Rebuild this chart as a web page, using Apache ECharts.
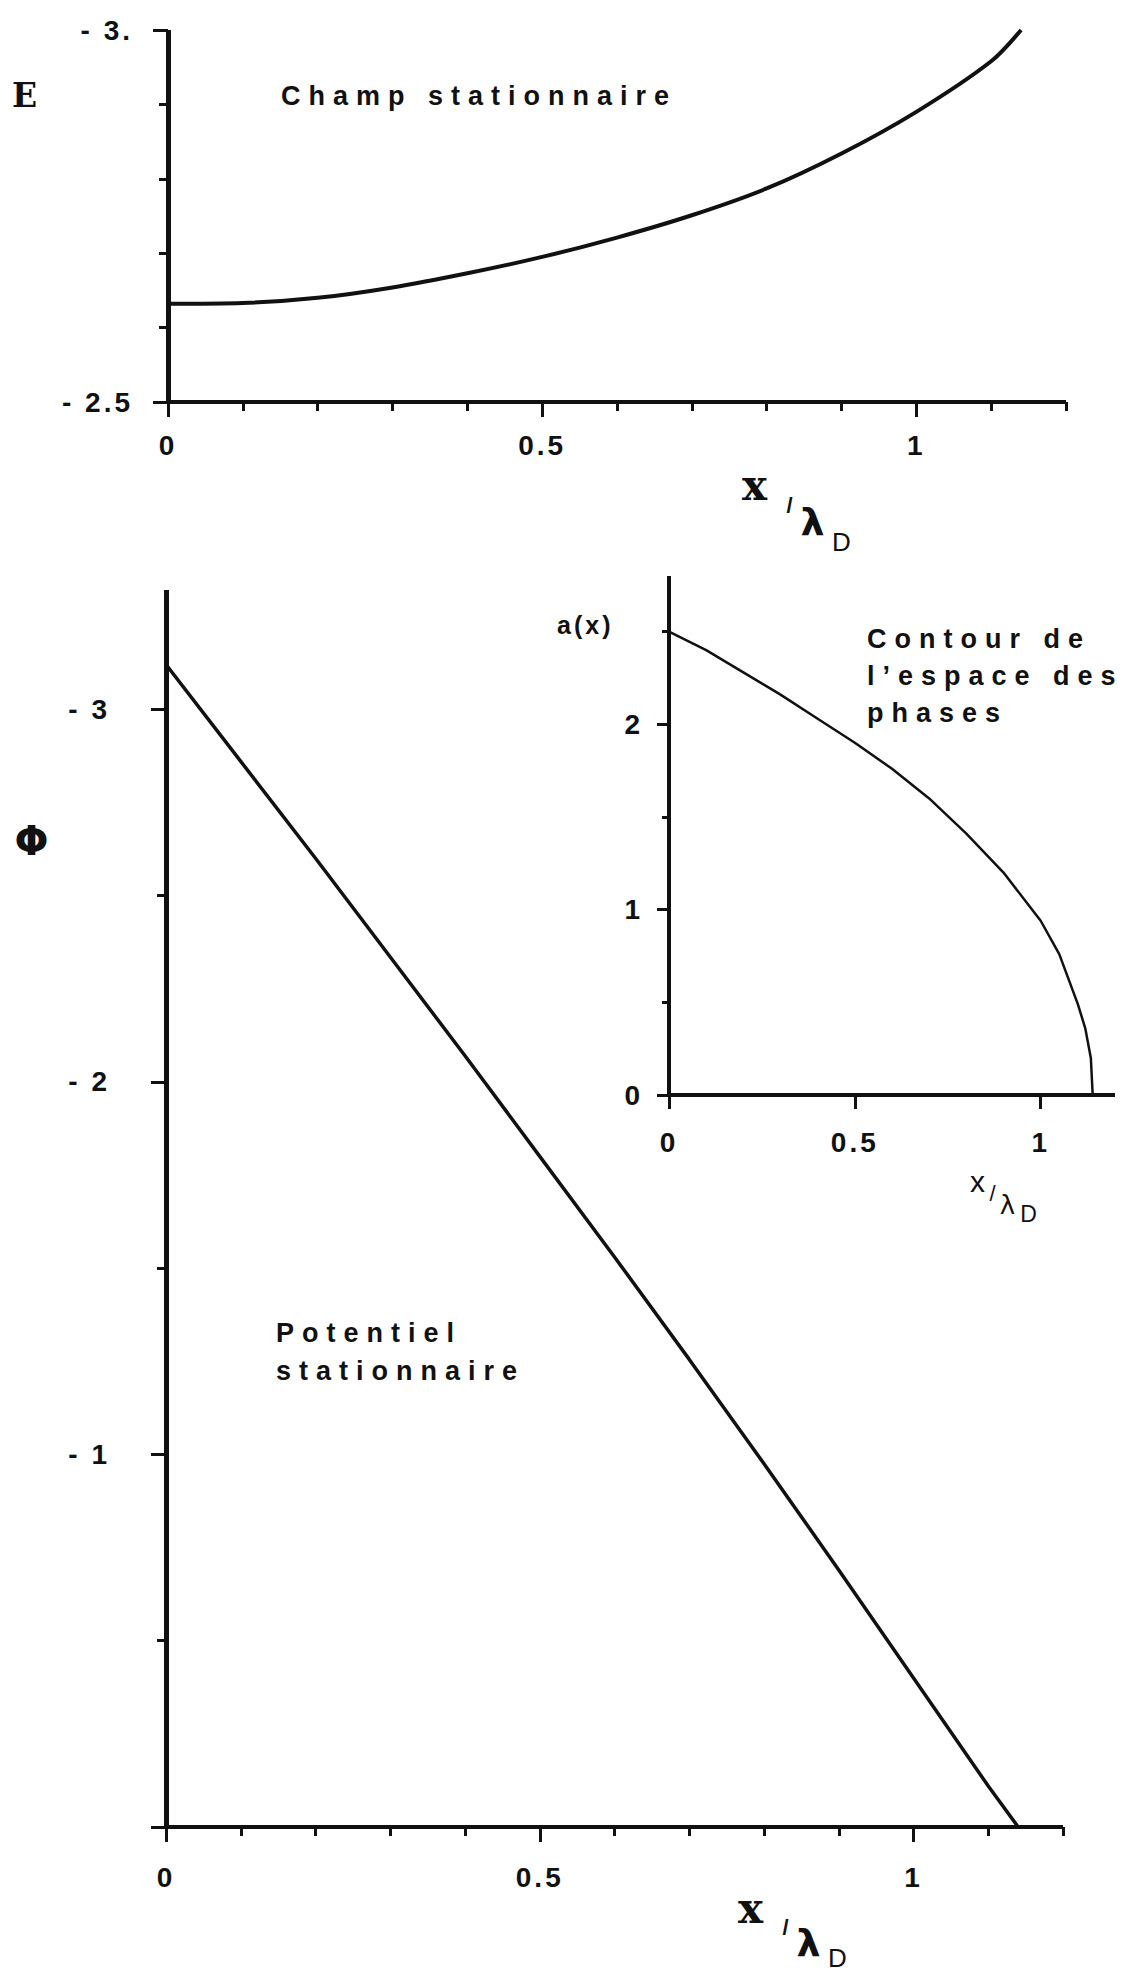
<!DOCTYPE html>
<html>
<head>
<meta charset="utf-8">
<title>Champ, potentiel et contour de l'espace des phases</title>
<script src="https://cdn.jsdelivr.net/npm/echarts@6/dist/echarts.min.js"></script>
<style>
  html, body { margin: 0; padding: 0; background: #ffffff; }
  #chart { width: 1127px; height: 1979px; }
  /* typewriter-like tracking of the plot lettering */
  #chart text { letter-spacing: 3px; }
  #chart text[style*="27px"] { letter-spacing: 8px; }
</style>
</head>
<body>
<div id="chart"></div>
<script>
// ---- stationary electric field E(x) ----
const eX = [0, 0.1, 0.2, 0.3, 0.4, 0.5, 0.6, 0.7, 0.8, 0.9, 1.0, 1.1, 1.14];
const eY = [-2.632, -2.633, -2.640, -2.654, -2.673, -2.695, -2.721, -2.751, -2.787, -2.834, -2.890, -2.958, -3.0];

// ---- stationary potential Phi(x) ----
const phiX = [0, 0.1, 0.2, 0.3, 0.4, 0.5, 0.6, 0.7, 0.8, 0.9, 1.0, 1.1, 1.14];
const phiY = [-3.12, -2.86, -2.60, -2.335, -2.07, -1.80, -1.53, -1.255, -0.975, -0.69, -0.40, -0.11, 0];

// ---- phase-space contour a(x) ----
const aX = [0, 0.1, 0.2, 0.3, 0.4, 0.5, 0.6, 0.7, 0.8, 0.9, 1.0, 1.05, 1.1, 1.12, 1.135, 1.14];
const aY = [2.50, 2.40, 2.28, 2.16, 2.03, 1.90, 1.76, 1.60, 1.41, 1.20, 0.94, 0.76, 0.49, 0.36, 0.20, 0];

// ---- tick positions and tick labels ----
const xMinorTicks = [0.1, 0.2, 0.3, 0.4, 0.6, 0.7, 0.8, 0.9, 1.1, 1.2];
const xMajorTicks = [0, 0.5, 1];
const xLabelTexts = ['0', '0.5', '1'];

const eMinorTicks = [-2.9, -2.8, -2.7, -2.6];
const eMajorTicks = [-3, -2.5];
const eLabelTexts = ['- 3.', '- 2.5'];

const phiMinorTicks = [-2.5, -1.5, -0.5];
const phiMajorTicks = [-3, -2, -1, 0];
const phiLabelValues = [-3, -2, -1];
const phiLabelTexts = ['- 3', '- 2', '- 1'];

const aMinorTicks = [0.5, 1.5, 2.5];
const aMajorTicks = [0, 1, 2];
const aLabelTexts = ['0', '1', '2'];

const INK = '#111111';
const SANS = '"Liberation Sans", Arial, Helvetica, sans-serif';

function pick(values, texts) {
  return function (v) {
    const i = values.findIndex(t => Math.abs(t - v) < 1e-6);
    return i < 0 ? '' : texts[i];
  };
}

function makeAxis(o) {
  const ax = {
    type: 'value',
    gridIndex: o.grid,
    position: o.position,
    min: o.min,
    max: o.max,
    inverse: !!o.inverse,
    silent: true,
    splitLine: { show: false },
    axisPointer: { show: false },
    axisLine: {
      show: o.showLine !== false,
      onZero: false,
      lineStyle: { color: INK, width: o.lineWidth || 4, cap: 'butt' }
    },
    axisTick: {
      show: true,
      inside: false,
      length: o.tickLen,
      customValues: o.ticks,
      lineStyle: { color: INK, width: o.tickWidth || 3 }
    },
    axisLabel: { show: false }
  };
  if (o.labelValues) {
    ax.axisLabel = {
      show: true,
      customValues: o.labelValues,
      formatter: pick(o.labelValues, o.labelTexts),
      margin: o.margin,
      color: INK,
      fontFamily: SANS,
      fontWeight: 'bold',
      fontSize: 28,
      hideOverlap: false
    };
  }
  return ax;
}

function pairs(xs, ys) { return xs.map((x, i) => [x, ys[i]]); }

function txt(x, y, text, font, align) {
  const a = align || 'center';
  return {
    type: 'text', x: x, y: y, silent: true,
    style: {
      text: text, font: font, fill: INK,
      textAlign: a, textVerticalAlign: 'middle',
      align: a, verticalAlign: 'middle'
    }
  };
}

function blockText(x, y, text, font, lineHeight) {
  return {
    type: 'text', x: x, y: y, silent: true,
    style: {
      text: text, font: font, fill: INK, lineHeight: lineHeight,
      textAlign: 'left', textVerticalAlign: 'top',
      align: 'left', verticalAlign: 'top'
    }
  };
}

const chart = echarts.init(document.getElementById('chart'), null, { renderer: 'svg' });

const option = {
  animation: false,
  backgroundColor: '#ffffff',
  grid: [
    { left: 168, top: 30, width: 898, height: 372, outerBoundsMode: 'none' },
    { left: 166, top: 590, width: 897, height: 1237, outerBoundsMode: 'none' },
    { left: 669, top: 576, width: 446, height: 519, outerBoundsMode: 'none' }
  ],
  xAxis: [
    // field panel
    makeAxis({ grid: 0, position: 'bottom', min: 0, max: 1.2, ticks: xMinorTicks, tickLen: 9, lineWidth: 4 }),
    makeAxis({ grid: 0, position: 'bottom', min: 0, max: 1.2, ticks: xMajorTicks, tickLen: 15, showLine: false,
               labelValues: xMajorTicks, labelTexts: xLabelTexts, margin: 29 }),
    // potential panel
    makeAxis({ grid: 1, position: 'bottom', min: 0, max: 1.2, ticks: xMinorTicks, tickLen: 9, lineWidth: 4 }),
    makeAxis({ grid: 1, position: 'bottom', min: 0, max: 1.2, ticks: xMajorTicks, tickLen: 15, showLine: false,
               labelValues: xMajorTicks, labelTexts: xLabelTexts, margin: 36 }),
    // phase-space inset
    makeAxis({ grid: 2, position: 'bottom', min: 0, max: 1.2, ticks: xMajorTicks, tickLen: 14, lineWidth: 4,
               labelValues: xMajorTicks, labelTexts: xLabelTexts, margin: 33 })
  ],
  yAxis: [
    makeAxis({ grid: 0, position: 'left', min: -3, max: -2.5, inverse: true, ticks: eMinorTicks, tickLen: 9, lineWidth: 5 }),
    makeAxis({ grid: 0, position: 'left', min: -3, max: -2.5, inverse: true, ticks: eMajorTicks, tickLen: 15, showLine: false,
               labelValues: eMajorTicks, labelTexts: eLabelTexts, margin: 35 }),
    makeAxis({ grid: 1, position: 'left', min: -3.32, max: 0, inverse: true, ticks: phiMinorTicks, tickLen: 9, lineWidth: 5 }),
    makeAxis({ grid: 1, position: 'left', min: -3.32, max: 0, inverse: true, ticks: phiMajorTicks, tickLen: 15, showLine: false,
               labelValues: phiLabelValues, labelTexts: phiLabelTexts, margin: 56 }),
    makeAxis({ grid: 2, position: 'left', min: 0, max: 2.8, ticks: aMinorTicks, tickLen: 7, lineWidth: 4 }),
    makeAxis({ grid: 2, position: 'left', min: 0, max: 2.8, ticks: aMajorTicks, tickLen: 12, showLine: false,
               labelValues: aMajorTicks, labelTexts: aLabelTexts, margin: 26 })
  ],
  series: [
    {
      name: 'E', type: 'line', xAxisIndex: 0, yAxisIndex: 0,
      data: pairs(eX, eY), showSymbol: false, symbol: 'none',
      smooth: 0.3, silent: true,
      lineStyle: { color: INK, width: 4 }
    },
    {
      name: 'Phi', type: 'line', xAxisIndex: 2, yAxisIndex: 2,
      data: pairs(phiX, phiY), showSymbol: false, symbol: 'none',
      smooth: false, silent: true,
      lineStyle: { color: INK, width: 3.5 }
    },
    {
      name: 'a', type: 'line', xAxisIndex: 4, yAxisIndex: 4,
      data: pairs(aX, aY), showSymbol: false, symbol: 'none',
      smooth: false, silent: true,
      lineStyle: { color: INK, width: 2.5, join: 'round' }
    }
  ],
  graphic: [
    // axis names
    txt(26, 95, 'E', 'bold 33px "DejaVu Serif", serif'),
    txt(33, 841, 'Φ', 'bold 40px "DejaVu Sans", sans-serif'),
    // x / lambda_D under the field panel
    txt(756, 485, 'x', 'bold 42px "DejaVu Serif", serif'),
    txt(791, 505, '/', 'bold 22px ' + SANS),
    txt(814, 522, 'λ', 'bold 38px "DejaVu Sans", sans-serif'),
    txt(843, 542, 'D', '26px ' + SANS),
    // x / lambda_D under the potential panel
    txt(752, 1908, 'x', 'bold 42px "DejaVu Serif", serif'),
    txt(787, 1927, '/', 'bold 22px ' + SANS),
    txt(810, 1943, 'λ', 'bold 38px "DejaVu Sans", sans-serif'),
    txt(839, 1958, 'D', '26px ' + SANS),
    // inset axis names
    txt(557, 625, 'a(x)', 'bold 25px ' + SANS, 'left'),
    txt(979, 1181, 'x', '30px ' + SANS),
    txt(994, 1193, '/', '22px ' + SANS),
    txt(1009, 1205, 'λ', '26px "DejaVu Sans", sans-serif'),
    txt(1030, 1214, 'D', '23px ' + SANS),
    // panel captions
    blockText(281, 82, 'Champ stationnaire', 'bold 27px ' + SANS, 28),
    blockText(276, 1314, 'Potentiel\nstationnaire', 'bold 27px ' + SANS, 38),
    blockText(867, 620, 'Contour de\nl’espace des\nphases', 'bold 27px ' + SANS, 37)
  ]
};

chart.setOption(option);
</script>
</body>
</html>
